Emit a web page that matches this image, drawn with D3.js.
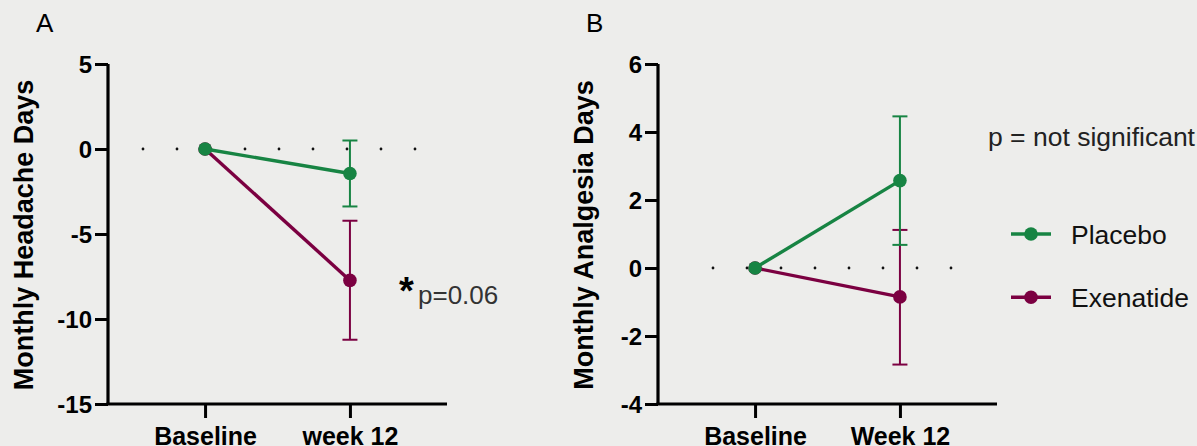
<!DOCTYPE html>
<html>
<head>
<meta charset="utf-8">
<script src="https://cdn.jsdelivr.net/npm/d3@7"></script>
<style>
  body { margin: 0; background: #ededeb; }
  svg { display: block; font-family: "Liberation Sans", Arial, sans-serif; }
</style>
</head>
<body>
<svg id="chart"></svg>
<script>
// ---- data ----
const timepointsA = ['Baseline', 'week 12'];
const timepointsB = ['Baseline', 'Week 12'];

const headacheTicks = [5, 0, -5, -10, -15];
const analgesiaTicks = [6, 4, 2, 0, -2, -4];

// mean change, error bar low / high (baseline has no bar)
const headachePlacebo = [0, -1.44];
const headachePlaceboLow = [null, -3.38];
const headachePlaceboHigh = [null, 0.5];
const headacheExenatide = [0, -7.73];
const headacheExenatideLow = [null, -11.22];
const headacheExenatideHigh = [null, -4.22];

const analgesiaPlacebo = [0, 2.57];
const analgesiaPlaceboLow = [null, 0.68];
const analgesiaPlaceboHigh = [null, 4.46];
const analgesiaExenatide = [0, -0.85];
const analgesiaExenatideLow = [null, -2.84];
const analgesiaExenatideHigh = [null, 1.12];

const seriesNames = ['Placebo', 'Exenatide'];
const colors = { Placebo: '#178443', Exenatide: '#7b0041' };

const svg = d3.select('#chart').attr('width', 1197).attr('height', 446);

class ChangePlot {
    constructor(_config, _series) {
        this.config = {
            left: _config.left,
            right: _config.right,
            top: 64,
            bottom: 404,
            categories: _config.categories,
            ticks: _config.ticks,
            title: _config.title,
            titleX: _config.titleX,
            label: _config.label,
            labelX: _config.labelX,
            dotStart: _config.dotStart,
            dotEnd: _config.dotEnd
        };
        this.series = _series;
        this.initVis();
    }

    initVis() {
        let vis = this;
        let c = vis.config;

        vis.xScale = d3.scalePoint()
            .domain(c.categories)
            .range([c.left, c.right])
            .padding(0.67);

        vis.yScale = d3.scaleLinear()
            .domain(d3.extent(c.ticks))
            .range([c.bottom, c.top]);

        vis.g = svg.append('g');

        // dotted zero line
        vis.g.append('line')
            .attr('x1', c.left + c.dotStart)
            .attr('x2', c.right - c.dotEnd)
            .attr('y1', vis.yScale(0))
            .attr('y2', vis.yScale(0))
            .attr('stroke', '#111')
            .attr('stroke-width', 2.8)
            .attr('stroke-linecap', 'round')
            .attr('stroke-dasharray', '0 34');

        // axes
        vis.yAxisG = vis.g.append('g')
            .attr('transform', `translate(${c.left},0)`)
            .call(d3.axisLeft(vis.yScale)
                .tickValues(c.ticks)
                .tickFormat(d => String(d))   // plain hyphen like the original
                .tickSize(13).tickPadding(3));

        vis.xAxisG = vis.g.append('g')
            .attr('transform', `translate(0,${c.bottom})`)
            .call(d3.axisBottom(vis.xScale).tickSize(14).tickPadding(9).tickSizeOuter(0));

        [vis.yAxisG, vis.xAxisG].forEach(a => {
            a.select('.domain').attr('stroke', '#000').attr('stroke-width', 3.2);
            a.selectAll('.tick line').attr('stroke', '#000').attr('stroke-width', 3);
            a.selectAll('.tick text')
                .attr('fill', '#000')
                .style('font-weight', 'bold')
                .style('font-family', '"Liberation Sans", Arial, sans-serif');
        });
        vis.yAxisG.selectAll('.tick text').style('font-size', '24px').attr('dy', '0.36em');
        vis.xAxisG.selectAll('.tick text').style('font-size', '25px');
        // y domain starts at the x axis (no outer tick stub)
        vis.yAxisG.select('.domain').attr('d', `M0,${c.bottom}V${c.top}`);
        vis.xAxisG.select('.domain').attr('d', `M${c.left - 1.6},0H${c.right}`);

        // titles
        vis.g.append('text')
            .attr('transform', `translate(${c.titleX},${(c.top + c.bottom) / 2 + 1}) rotate(-90)`)
            .attr('text-anchor', 'middle')
            .style('font-size', '27px')
            .style('font-weight', 'bold')
            .text(c.title);

        vis.g.append('text')
            .attr('x', c.labelX)
            .attr('y', 31.5)
            .style('font-size', '26px')
            .text(c.label);

        vis.renderVis();
    }

    renderVis() {
        let vis = this;
        let cats = vis.config.categories;

        vis.line = d3.line()
            .x((d, i) => vis.xScale(cats[i]))
            .y(d => vis.yScale(d));

        // draw Exenatide first so Placebo sits on top at baseline
        const order = [1, 0];
        order.forEach(k => {
            const s = vis.series[k];
            const col = colors[s.name];
            const bars = s.mean.map((m, i) => ({ x: cats[i], lo: s.low[i], hi: s.high[i] }))
                .filter(d => d.lo !== null);

            const eb = vis.g.append('g');
            eb.selectAll('.stem').data(bars).join('line')
                .attr('x1', d => vis.xScale(d.x)).attr('x2', d => vis.xScale(d.x))
                .attr('y1', d => vis.yScale(d.lo)).attr('y2', d => vis.yScale(d.hi))
                .attr('stroke', col).attr('stroke-width', 2);
            eb.selectAll('.capLo').data(bars).join('line')
                .attr('x1', d => vis.xScale(d.x) - 7.5).attr('x2', d => vis.xScale(d.x) + 7.5)
                .attr('y1', d => vis.yScale(d.lo)).attr('y2', d => vis.yScale(d.lo))
                .attr('stroke', col).attr('stroke-width', 2);
            eb.selectAll('.capHi').data(bars).join('line')
                .attr('x1', d => vis.xScale(d.x) - 7.5).attr('x2', d => vis.xScale(d.x) + 7.5)
                .attr('y1', d => vis.yScale(d.hi)).attr('y2', d => vis.yScale(d.hi))
                .attr('stroke', col).attr('stroke-width', 2);
        });

        order.forEach(k => {
            const s = vis.series[k];
            const col = colors[s.name];
            vis.g.append('path')
                .datum(s.mean)
                .attr('fill', 'none')
                .attr('stroke', col)
                .attr('stroke-width', 3.4)
                .attr('d', vis.line);
            vis.g.selectAll(null).data(s.mean).join('circle')
                .attr('cx', (d, i) => vis.xScale(cats[i]))
                .attr('cy', d => vis.yScale(d))
                .attr('r', 6.8)
                .attr('fill', col);
        });
    }
}

const plotA = new ChangePlot({
    left: 108, right: 447,
    categories: timepointsA,
    ticks: headacheTicks,
    title: 'Monthly Headache Days',
    titleX: 33,
    label: 'A', labelX: 36,
    dotStart: 35, dotEnd: 10
}, [
    { name: 'Placebo', mean: headachePlacebo, low: headachePlaceboLow, high: headachePlaceboHigh },
    { name: 'Exenatide', mean: headacheExenatide, low: headacheExenatideLow, high: headacheExenatideHigh }
]);

const plotB = new ChangePlot({
    left: 658, right: 997,
    categories: timepointsB,
    ticks: analgesiaTicks,
    title: 'Monthly Analgesia Days',
    titleX: 593,
    label: 'B', labelX: 586,
    dotStart: 55, dotEnd: 32
}, [
    { name: 'Placebo', mean: analgesiaPlacebo, low: analgesiaPlaceboLow, high: analgesiaPlaceboHigh },
    { name: 'Exenatide', mean: analgesiaExenatide, low: analgesiaExenatideLow, high: analgesiaExenatideHigh }
]);

// significance annotations
svg.append('text')
    .attr('x', 399).attr('y', 304)
    .style('font-size', '38px').style('font-weight', 'bold')
    .text('*');
svg.append('text')
    .attr('x', 418).attr('y', 304)
    .attr('fill', '#333')
    .style('font-size', '26px')
    .text('p=0.06');

svg.append('text')
    .attr('x', 988).attr('y', 146)
    .attr('fill', '#222')
    .style('font-size', '26.5px')
    .text('p = not significant');

// legend
const legend = svg.append('g').attr('transform', 'translate(1011,234)');
seriesNames.forEach((name, i) => {
    const row = legend.append('g').attr('transform', `translate(0,${i * 63.3})`);
    row.append('line')
        .attr('x1', 0).attr('x2', 40)
        .attr('stroke', colors[name]).attr('stroke-width', 3.4);
    row.append('circle')
        .attr('cx', 20).attr('r', 6.8).attr('fill', colors[name]);
    row.append('text')
        .attr('x', 60).attr('y', 10)
        .attr('fill', '#111')
        .style('font-size', '26.5px')
        .text(name);
});
</script>
</body>
</html>
